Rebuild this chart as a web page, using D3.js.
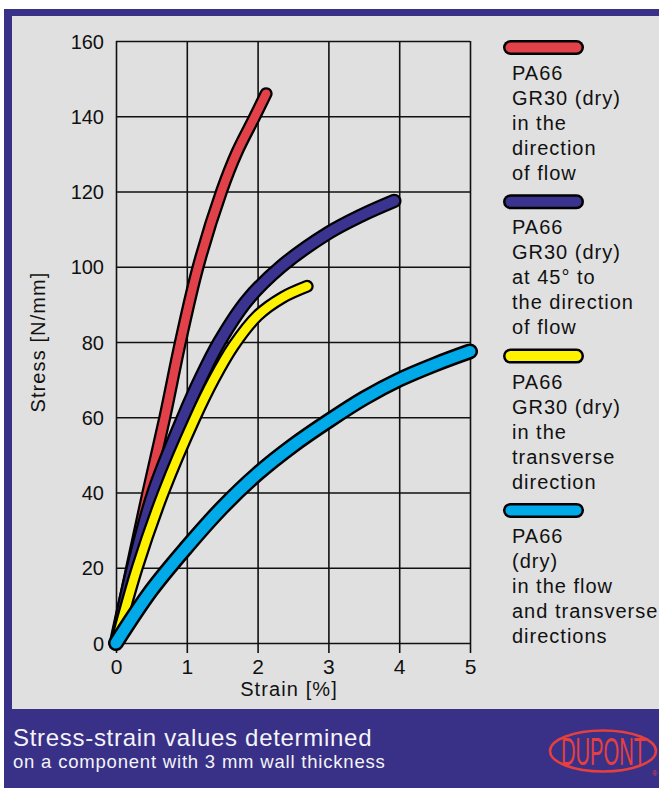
<!DOCTYPE html>
<html>
<head>
<meta charset="utf-8">
<script src="https://cdn.jsdelivr.net/npm/d3@7"></script>
<style>
  html, body { margin: 0; padding: 0; background: #ffffff; }
  svg { display: block; }
  text { font-family: "Liberation Sans", Arial, Helvetica, sans-serif; }
</style>
</head>
<body>
<div id="chart"></div>
<script>
// ---------------- data ----------------
const strainTicks = [0, 1, 2, 3, 4, 5];
const stressTicks = [0, 20, 40, 60, 80, 100, 120, 140, 160];

// [strain %, stress N/mm]
const redCurve    = [[0,0],[0.22,20],[0.45,40],[0.69,60],[0.91,80],[1.16,100],[1.49,120],[1.71,130.5],[1.95,139.5],[2.12,146]];
const navyCurve   = [[0,0],[0.24,20],[0.53,40],[0.95,60],[1.2,70.5],[1.46,80],[1.85,91],[2.33,100],[3,109],[3.45,113.5],[3.93,117.5]];
const yellowCurve = [[0,0],[0.3,20],[0.67,40],[1.12,60],[1.38,70],[1.66,79],[2,87],[2.35,91.8],[2.7,94.8]];
const cyanCurve   = [[0,0],[0.5,14],[1,25.5],[1.5,36],[2,45],[2.5,52.5],[3,59],[3.5,65],[4,70],[4.5,74],[5,77.5]];

const seriesColors = ["#e2414a", "#3a3390", "#fff200", "#00a9e8"];
const legendLabels = [
  ["PA66", "GR30 (dry)", "in the", "direction", "of flow"],
  ["PA66", "GR30 (dry)", "at 45\u00b0 to", "the direction", "of flow"],
  ["PA66", "GR30 (dry)", "in the", "transverse", "direction"],
  ["PA66", "(dry)", "in the flow", "and transverse", "directions"]
];
const xTitle = "Strain [%]";
const yTitle = "Stress [N/mm]";
const footLine1 = "Stress-strain values determined";
const footLine2 = "on a component with 3 mm wall thickness";
const logoText = "DUPONT";

// ---------------- layout ----------------
const W = 659, H = 788;
const frameBlue = "#393087";
const panelGrey = "#e0e0e0";
const plot = { left: 116, right: 470, top: 41, bottom: 643 };

const svg = d3.select("#chart").append("svg")
  .attr("width", W).attr("height", H);

svg.append("rect").attr("x", 0).attr("y", 0).attr("width", W).attr("height", H).attr("fill", "#ffffff");
svg.append("rect").attr("x", 4).attr("y", 9).attr("width", W - 4).attr("height", H - 9).attr("fill", frameBlue);
svg.append("rect").attr("x", 12).attr("y", 16).attr("width", W - 12).attr("height", 709 - 16).attr("fill", panelGrey);

const x = d3.scaleLinear().domain([0, 5]).range([plot.left, plot.right]);
const y = d3.scaleLinear().domain([0, 160]).range([plot.bottom, plot.top]);
const pw = plot.right - plot.left, ph = plot.bottom - plot.top;

// grid via axes
const gx = svg.append("g")
  .attr("transform", `translate(0,${plot.bottom})`)
  .call(d3.axisBottom(x).tickValues(strainTicks).tickSizeInner(-ph).tickSizeOuter(0).tickFormat(""));
const gy = svg.append("g")
  .attr("transform", `translate(${plot.left},0)`)
  .call(d3.axisLeft(y).tickValues(stressTicks).tickSizeInner(-pw).tickSizeOuter(0).tickFormat(""));
[gx, gy].forEach(g => {
  g.select(".domain").remove();
  g.selectAll("line").attr("stroke", "#111").attr("stroke-width", 1.6);
});

// x tick labels and short ticks below
const gxl = svg.append("g")
  .attr("transform", `translate(0,${plot.bottom})`)
  .call(d3.axisBottom(x).tickValues(strainTicks).tickSizeInner(10).tickSizeOuter(0).tickPadding(6).tickFormat(d3.format("d")));
gxl.select(".domain").remove();
gxl.selectAll("line").attr("stroke", "#111").attr("stroke-width", 1.6);
gxl.selectAll("text").attr("fill", "#111").attr("font-size", 21)
  .attr("font-family", "'Liberation Sans', Arial, sans-serif").attr("dy", "0.72em");

// y tick labels
const gyl = svg.append("g")
  .attr("transform", `translate(${plot.left},0)`)
  .call(d3.axisLeft(y).tickValues(stressTicks).tickSize(0).tickPadding(12).tickFormat(d3.format("d")));
gyl.select(".domain").remove();
gyl.selectAll("text").attr("fill", "#111").attr("font-size", 20)
  .attr("font-family", "'Liberation Sans', Arial, sans-serif").attr("dy", "0.36em");

// axis titles
svg.append("text").attr("x", 289).attr("y", 696).attr("text-anchor", "middle")
  .attr("font-size", 20).attr("letter-spacing", "1.1px").attr("fill", "#111").text(xTitle);
svg.append("text").attr("transform", "translate(45,342) rotate(-90)").attr("text-anchor", "middle")
  .attr("font-size", 20).attr("letter-spacing", "1.1px").attr("fill", "#111").text(yTitle);

// curves
const line = d3.line().x(d => x(d[0])).y(d => y(d[1])).curve(d3.curveCatmullRom.alpha(0.5));
const curves = [redCurve, navyCurve, yellowCurve, cyanCurve];
const outerW = [13, 14.5, 13, 16];
const innerW = [8.5, 10, 8.5, 11];
curves.forEach((c, i) => {
  const g = svg.append("g");
  g.append("path").attr("d", line(c)).attr("fill", "none").attr("stroke", "#000")
    .attr("stroke-width", outerW[i]).attr("stroke-linecap", "round").attr("stroke-linejoin", "round");
  g.append("path").attr("d", line(c)).attr("fill", "none").attr("stroke", seriesColors[i])
    .attr("stroke-width", innerW[i]).attr("stroke-linecap", "round").attr("stroke-linejoin", "round");
});

// legend
const legX0 = 510.5, legX1 = 576.5, legTextX = 512;
legendLabels.forEach((lines, i) => {
  const sy = 47.5 + i * 154.3;
  svg.append("line").attr("x1", legX0).attr("x2", legX1).attr("y1", sy).attr("y2", sy)
    .attr("stroke", "#000").attr("stroke-width", 15).attr("stroke-linecap", "round");
  svg.append("line").attr("x1", legX0).attr("x2", legX1).attr("y1", sy).attr("y2", sy)
    .attr("stroke", seriesColors[i]).attr("stroke-width", 10).attr("stroke-linecap", "round");
  lines.forEach((t, k) => {
    svg.append("text").attr("x", legTextX).attr("y", sy + 32.5 + k * 25)
      .attr("font-size", 20).attr("letter-spacing", "1px").attr("fill", "#111").text(t);
  });
});

// footer
svg.append("text").attr("x", 13).attr("y", 746).attr("font-size", 24).attr("letter-spacing", "0.7px")
  .attr("fill", "#f4f4f8").text(footLine1);
svg.append("text").attr("x", 13).attr("y", 768).attr("font-size", 18.5).attr("letter-spacing", "0.8px")
  .attr("fill", "#f4f4f8").text(footLine2);

// logo
const logoRed = "#e5403e";
svg.append("ellipse").attr("cx", 603).attr("cy", 751).attr("rx", 53).attr("ry", 20.5)
  .attr("fill", "none").attr("stroke", logoRed).attr("stroke-width", 2.5);
svg.append("text").attr("transform", "translate(561,764.5) scale(0.53,1)")
  .attr("font-size", 38).attr("fill", logoRed).text(logoText);
svg.append("text").attr("x", 652).attr("y", 776).attr("font-size", 7).attr("fill", logoRed).text("\u00ae");
</script>
</body>
</html>
